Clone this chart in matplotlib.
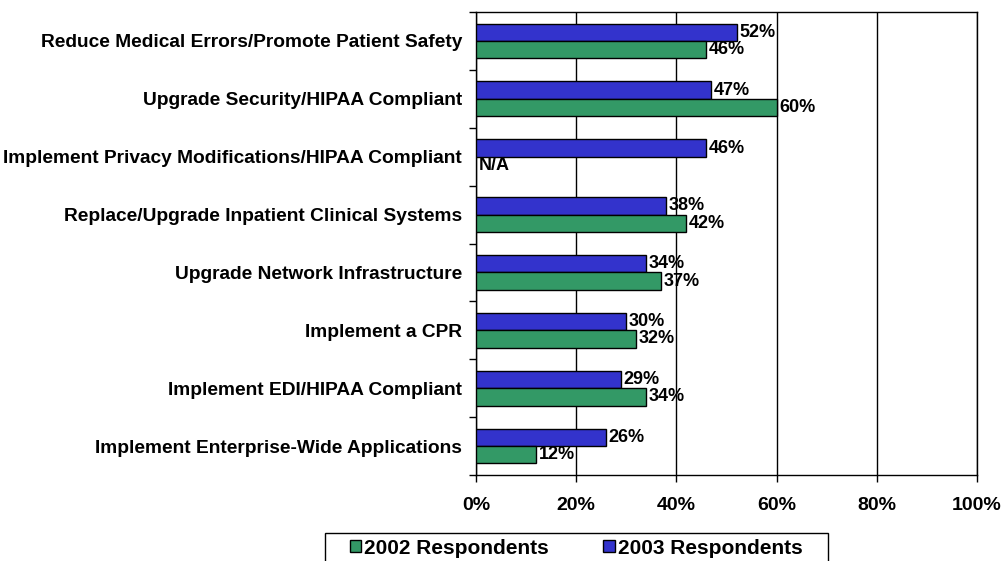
import numpy as np
import matplotlib.pyplot as plt
from matplotlib.ticker import FuncFormatter
from matplotlib.patches import Patch, Rectangle

categories = [
    "Reduce Medical Errors/Promote Patient Safety",
    "Upgrade Security/HIPAA Compliant",
    "Implement Privacy Modifications/HIPAA Compliant",
    "Replace/Upgrade Inpatient Clinical Systems",
    "Upgrade Network Infrastructure",
    "Implement a CPR",
    "Implement EDI/HIPAA Compliant",
    "Implement Enterprise-Wide Applications",
]
resp_2003 = [52, 47, 46, 38, 34, 30, 29, 26]
resp_2002 = [46, 60, None, 42, 37, 32, 34, 12]
xticks = [0, 20, 40, 60, 80, 100]

blue = "#3333CC"
green = "#339966"
font = "Liberation Sans"

W, H = 1005, 561
fig = plt.figure(figsize=(W / 100, H / 100), dpi=100)
ax = fig.add_axes([476 / W, 1 - 475 / H, 501 / W, 463 / H])

n = len(categories)
y = np.arange(n)
h = 0.3
vsize = 13

for i in range(n):
    v3 = resp_2003[i]
    ax.barh(y[i] - h / 2, v3, height=h, color=blue, edgecolor="black", linewidth=1, zorder=3)
    ax.text(v3 + 0.5, y[i] - h / 2, f"{v3}%", va="center", ha="left",
            fontsize=vsize, fontweight="bold", family=font, zorder=4)
    v2 = resp_2002[i]
    if v2 is None:
        ax.text(0.5, y[i] + h / 2, "N/A", va="center", ha="left",
                fontsize=vsize, fontweight="bold", family=font, zorder=4)
    else:
        ax.barh(y[i] + h / 2, v2, height=h, color=green, edgecolor="black", linewidth=1, zorder=3)
        ax.text(v2 + 0.5, y[i] + h / 2, f"{v2}%", va="center", ha="left",
                fontsize=vsize, fontweight="bold", family=font, zorder=4)

ax.set_xlim(0, 100)
ax.set_ylim(n - 0.5, -0.5)
ax.set_xticks(xticks)
ax.xaxis.set_major_formatter(FuncFormatter(lambda v, p: f"{v:.0f}%"))
ax.set_yticks(y)
ax.set_yticklabels(categories)
ax.set_yticks(np.arange(-0.5, n, 1), minor=True)
ax.tick_params(axis="y", which="major", length=0, pad=10)
ax.tick_params(axis="y", which="minor", length=5, width=1, direction="out")
ax.tick_params(axis="x", length=5, width=1, direction="out", pad=11)
for lab in ax.get_yticklabels():
    lab.set_fontsize(13.8)
    lab.set_fontweight("bold")
    lab.set_family(font)
for lab in ax.get_xticklabels():
    lab.set_fontsize(14)
    lab.set_fontweight("bold")
    lab.set_family(font)
ax.grid(axis="x", color="black", linewidth=1, zorder=0)
for s in ax.spines.values():
    s.set_color("black")
    s.set_linewidth(1)

# legend box runs off the bottom edge like in the original
fig.patches.append(Rectangle((325 / W, -0.02), 503 / W, 0.02 + 28 / H,
                             transform=fig.transFigure, facecolor="white",
                             edgecolor="black", linewidth=1))
handles = [Patch(facecolor=green, edgecolor="black"), Patch(facecolor=blue, edgecolor="black")]
leg = fig.legend(handles, ["2002 Respondents", "2003 Respondents"], loc="center",
                 bbox_to_anchor=(576 / W, 1 - 548 / H), ncol=2, frameon=False,
                 handlelength=0.55, handleheight=0.55, handletextpad=0.15,
                 columnspacing=2.6, borderaxespad=0,
                 prop={"family": font, "weight": "bold", "size": 15})

fig.savefig("out.png", dpi=100)
